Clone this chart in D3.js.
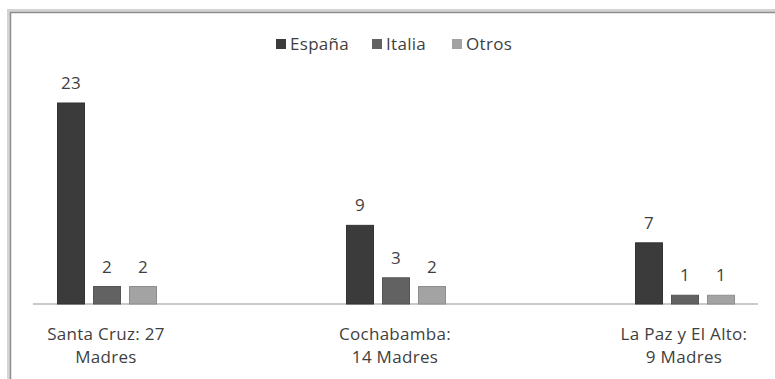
<!DOCTYPE html>
<html>
<head>
<meta charset="utf-8">
<script src="https://cdn.jsdelivr.net/npm/d3@7"></script>
<style>
  html, body { margin: 0; padding: 0; background: #fff; }
  svg { display: block; }
  text { font-family: "Open Sans", "Noto Sans", sans-serif; fill: #3f3f3f; letter-spacing: 0.3px; }
</style>
</head>
<body>
<script>
// Destination of mothers by region
const categories = ["Santa Cruz: 27|Madres", "Cochabamba:|14 Madres", "La Paz y El Alto:|9 Madres"];
const seriesNames = ["España", "Italia", "Otros"];
const espana = [23, 9, 7];
const italia = [2, 3, 1];
const otros = [2, 2, 1];
const seriesColors = ["#3b3b3b", "#626262", "#a3a3a3"];

const W = 775, H = 379;
const svg = d3.select("body").append("svg").attr("width", W).attr("height", H);

// outer frame with soft shadow
svg.append("path")
  .attr("d", `M9,${H + 2} V11 H${W + 2}`)
  .attr("fill", "none").attr("stroke", "#d4d4d4").attr("stroke-width", 4);
svg.append("path")
  .attr("d", `M10.5,${H + 2} V12.5 H${W + 2}`)
  .attr("fill", "none").attr("stroke", "#8e8e8e").attr("stroke-width", 1.5);

const baseY = 304;
const x0 = d3.scaleBand().domain(categories).range([-38.5, 828.5]);
const x1 = d3.scaleBand().domain(seriesNames).range([-53, 55])
  .paddingInner(0.25).paddingOuter(0.125);
const y = d3.scaleLinear().domain([0, 23]).range([baseY, 103]);

const rows = categories.map((c, i) => ({
  cat: c,
  vals: [espana[i], italia[i], otros[i]]
}));

// baseline (category axis)
svg.append("line")
  .attr("x1", 33).attr("x2", 758).attr("y1", baseY).attr("y2", baseY)
  .attr("stroke", "#b8b8b8").attr("stroke-width", 1.5);

const g = svg.selectAll("g.cat").data(rows).join("g")
  .attr("class", "cat")
  .attr("transform", d => `translate(${x0(d.cat) + x0.bandwidth() / 2},0)`);

const bars = g.selectAll("g.bar")
  .data(d => d.vals.map((v, j) => ({ name: seriesNames[j], v, j })))
  .join("g").attr("class", "bar");

bars.append("rect")
  .attr("x", d => x1(d.name))
  .attr("width", x1.bandwidth())
  .attr("y", d => y(d.v))
  .attr("height", d => baseY - y(d.v))
  .attr("fill", d => seriesColors[d.j])
  .attr("stroke", d => d3.color(seriesColors[d.j]).darker(0.4))
  .attr("stroke-width", 1);

bars.append("text")
  .attr("x", d => x1(d.name) + x1.bandwidth() / 2)
  .attr("y", d => y(d.v) - 14)
  .attr("text-anchor", "middle")
  .attr("font-size", 17)
  .text(d => d.v);

// category labels, two lines each
g.append("text")
  .attr("text-anchor", "middle")
  .attr("font-size", 17)
  .selectAll("tspan")
  .data(d => d.cat.split("|"))
  .join("tspan")
  .attr("x", 0)
  .attr("y", (d, i) => 340 + i * 23)
  .text(d => d);

// legend
const legend = svg.append("g").attr("transform", "translate(276,44)");
const legX = [0, 96, 176];
seriesNames.forEach((n, i) => {
  const lg = legend.append("g").attr("transform", `translate(${legX[i]},0)`);
  lg.append("rect").attr("x", 0).attr("y", -5).attr("width", 10).attr("height", 10)
    .attr("fill", seriesColors[i]);
  lg.append("text").attr("x", 14).attr("y", 6).attr("font-size", 17).text(n);
});
</script>
</body>
</html>
